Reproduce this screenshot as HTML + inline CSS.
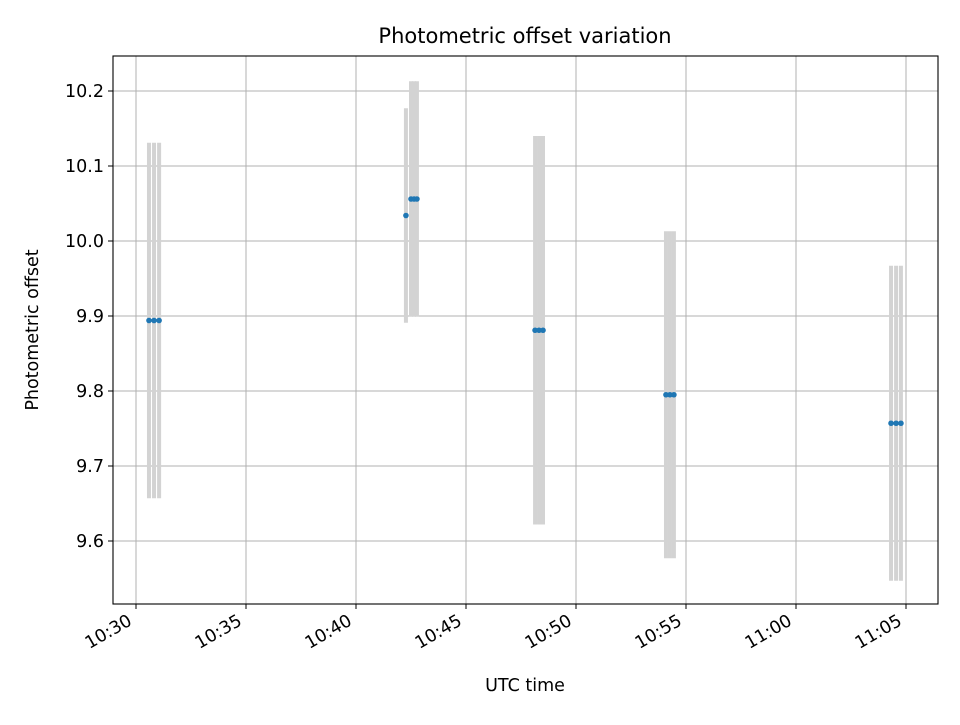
<!DOCTYPE html>
<html><head><meta charset="utf-8"><style>
body{margin:0;background:#fff;}
svg text{font-family:"DejaVu Sans","Liberation Sans",sans-serif;fill:#000;}
</style></head><body>
<svg id="c" width="960" height="720" xmlns="http://www.w3.org/2000/svg"></svg>
<script>
// minutes after 10:30
const times = [0.59,0.82,1.05, 12.27, 12.5,12.64,12.77, 18.14,18.32,18.5, 24.09,24.27,24.45, 34.32,34.55,34.77];
const values = [9.894,9.894,9.894, 10.034, 10.056,10.056,10.056, 9.881,9.881,9.881, 9.795,9.795,9.795, 9.757,9.757,9.757];
const errors = [0.237,0.237,0.237, 0.143, 0.157,0.157,0.157, 0.259,0.259,0.259, 0.218,0.218,0.218, 0.21,0.21,0.21];
const xTicks = [0,5,10,15,20,25,30,35];
const xTickLabels = ["10:30","10:35","10:40","10:45","10:50","10:55","11:00","11:05"];
const yTicks = [9.6,9.7,9.8,9.9,10.0,10.1,10.2];
const yTickLabels = ["9.6","9.7","9.8","9.9","10.0","10.1","10.2"];

const L=113,R=938,T=56,B=604;
const xs=m=>136+22*m;
const ys=v=>91+(10.2-v)*750;
const svg=document.getElementById('c');
const NS='http://www.w3.org/2000/svg';
function mk(tag,attrs,parent){const e=document.createElementNS(NS,tag);for(const k in attrs)e.setAttribute(k,attrs[k]);(parent||svg).appendChild(e);return e;}

const grid=mk('g',{});


xTicks.forEach(t=>{const l=mk('line',{x1:xs(t),x2:xs(t),y1:T,y2:B,stroke:'#b0b0b0','stroke-width':1},grid);

});
yTicks.forEach(t=>{const l=mk('line',{x1:L,x2:R,y1:ys(t),y2:ys(t),stroke:'#b0b0b0','stroke-width':1},grid);

});

const bars=mk('g',{});


times.forEach((t,i)=>{const r=mk('rect',{x:xs(t)-2,y:ys(values[i]+errors[i]),width:4,height:ys(values[i]-errors[i])-ys(values[i]+errors[i]),fill:'#d3d3d3'},bars);

});

const pts=mk('g',{});


times.forEach((t,i)=>{const c=mk('circle',{cx:xs(t),cy:ys(values[i]),r:2.8,fill:'#1f77b4'},pts);

});

const frame=mk('rect',{x:L,y:T,width:R-L,height:B-T,fill:'none',stroke:'#000','stroke-width':1.1});



xTicks.forEach((t,i)=>{mk('line',{x1:xs(t),x2:xs(t),y1:B,y2:B+5,stroke:'#000'});
const ax=xs(t)-3, ay=B+20;
const tx=mk('text',{x:ax,y:ay,'font-size':17.5,'text-anchor':'end',transform:`rotate(-30 ${ax} ${ay})`});
tx.textContent=xTickLabels[i];

});
yTicks.forEach((t,i)=>{mk('line',{x1:L-5,x2:L,y1:ys(t),y2:ys(t),stroke:'#000'});
const tx=mk('text',{x:L-9,y:ys(t)+6,'font-size':17.5,'text-anchor':'end'});
tx.textContent=yTickLabels[i];

});

const title=mk('text',{x:525,y:43,'font-size':21,'text-anchor':'middle'});
title.textContent='Photometric offset variation';


const xl=mk('text',{x:525,y:691,'font-size':17.5,'text-anchor':'middle'});
xl.textContent='UTC time';


const yl=mk('text',{x:38,y:330,'font-size':17.5,'text-anchor':'middle',transform:'rotate(-90 38 330)'});
yl.textContent='Photometric offset';


</script>
</body></html>
